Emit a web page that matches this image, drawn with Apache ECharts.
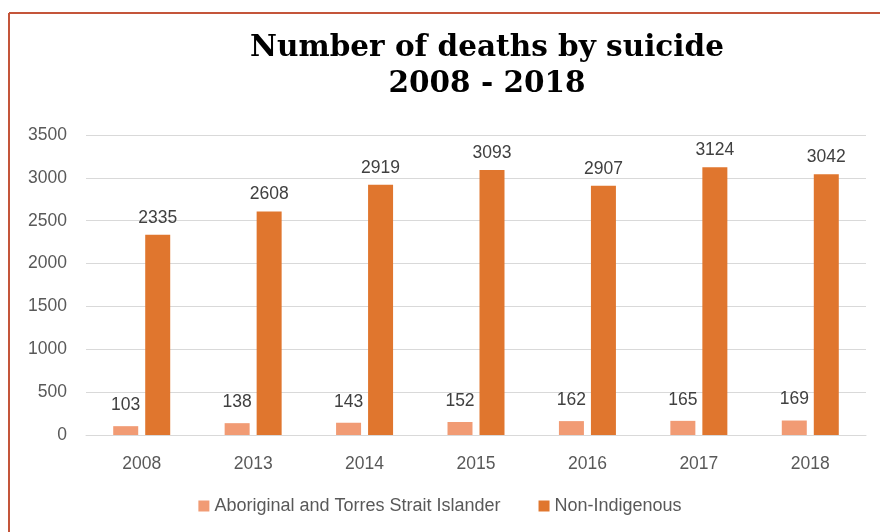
<!DOCTYPE html>
<html>
<head>
<meta charset="utf-8">
<script src="https://cdn.jsdelivr.net/npm/echarts@6/dist/echarts.min.js"></script>
<style>
  html, body { margin: 0; padding: 0; background: #fff; }
  #chart { width: 880px; height: 532px; }
</style>
</head>
<body>
<div id="chart"></div>
<script>
// data
var years = ['2008', '2013', '2014', '2015', '2016', '2017', '2018'];
var aboriginal = [103, 138, 143, 152, 162, 165, 169];
var nonIndigenous = [2335, 2608, 2919, 3093, 2907, 3124, 3042];

var chart = echarts.init(document.getElementById('chart'));

var labelStyle = {
    show: true,
    position: 'top',
    distance: 8,
    color: '#404040',
    fontSize: 17.5,
    fontFamily: 'Liberation Sans, Arial, sans-serif'
};

var option = {
    animation: false,
    title: {
        text: 'Number of deaths by suicide\n2008 - 2018',
        left: 482,
        textAlign: 'center',
        top: 25,
        textStyle: {
            fontFamily: 'DejaVu Serif, serif',
            fontWeight: 'bold',
            fontSize: 29.5,
            lineHeight: 36,
            color: '#000'
        }
    },
    // the reddish frame on the left and top
    graphic: [
        { type: 'line', shape: { x1: 9, y1: 13, x2: 9, y2: 532 }, style: { stroke: '#C4553A', lineWidth: 2 } },
        { type: 'line', shape: { x1: 9, y1: 13, x2: 880, y2: 13 }, style: { stroke: '#C4553A', lineWidth: 2 } }
    ],
    legend: {
        bottom: 12,
        left: 'center',
        itemWidth: 11,
        itemHeight: 11,
        itemGap: 38,
        icon: 'rect',
        textStyle: { color: '#595959', fontSize: 18, fontFamily: 'Liberation Sans, Arial, sans-serif' },
        data: ['Aboriginal and Torres Strait Islander', 'Non-Indigenous']
    },
    grid: { left: 86, right: 14, top: 135, bottom: 97 },
    xAxis: {
        type: 'category',
        data: years,
        axisLine: { lineStyle: { color: '#d9d9d9' } },
        axisTick: { show: false },
        axisLabel: { color: '#595959', fontSize: 17.5, margin: 20, fontFamily: 'Liberation Sans, Arial, sans-serif' }
    },
    yAxis: {
        type: 'value',
        min: 0,
        max: 3500,
        interval: 500,
        axisLine: { show: false },
        axisTick: { show: false },
        splitLine: { lineStyle: { color: '#d9d9d9' } },
        axisLabel: {
            color: '#595959', fontSize: 17.5, margin: 19,
            fontFamily: 'Liberation Sans, Arial, sans-serif',
            formatter: function (v) { return String(v); }
        }
    },
    series: [
        {
            name: 'Aboriginal and Torres Strait Islander',
            type: 'bar',
            data: aboriginal,
            barWidth: 25,
            barGap: '28%',
            itemStyle: { color: '#F19B74' },
            label: Object.assign({}, labelStyle, { distance: 12 })
        },
        {
            name: 'Non-Indigenous',
            type: 'bar',
            data: nonIndigenous,
            barWidth: 25,
            itemStyle: { color: '#E0762E' },
            label: labelStyle
        }
    ]
};

chart.setOption(option);
</script>
</body>
</html>
